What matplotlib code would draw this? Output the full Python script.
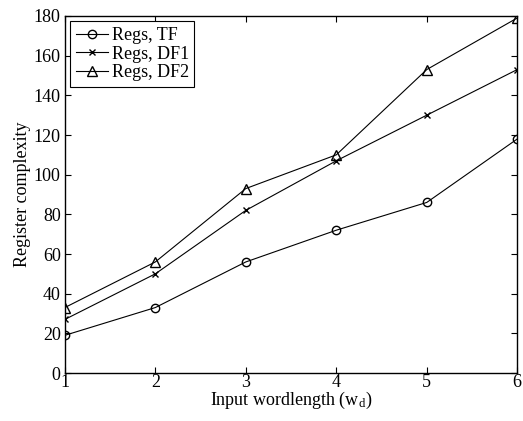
import matplotlib
matplotlib.use('Agg')
import matplotlib.pyplot as plt

# Data
wd = [1, 2, 3, 4, 5, 6]
regs_tf = [19, 33, 56, 72, 86, 118]
regs_df1 = [27, 50, 82, 107, 130, 153]
regs_df2 = [33, 56, 93, 110, 153, 179]

plt.rcParams['font.family'] = ['Liberation Serif', 'DejaVu Serif']
plt.rcParams['font.size'] = 13
plt.rcParams['mathtext.fontset'] = 'stix'

fig = plt.figure(figsize=(5.23, 4.21), dpi=100)
ax = fig.add_axes([0.124, 0.114, 0.865, 0.848])

ax.plot(wd, regs_tf, 'k-', marker='o', mfc='none', ms=6, lw=0.8, label='Regs, TF')
ax.plot(wd, regs_df1, 'k-', marker='x', ms=4.5, lw=0.8, label='Regs, DF1')
ax.plot(wd, regs_df2, 'k-', marker='^', mfc='none', ms=7, lw=0.8, label='Regs, DF2')

ax.set_xlim(1, 6)
ax.set_ylim(0, 180)
ax.set_xticks(wd)
ax.set_yticks(range(0, 181, 20))
ax.tick_params(direction='in', top=True, right=True, length=4)
ax.tick_params(axis='x', pad=1)
ax.tick_params(axis='y', pad=3)
for s in ax.spines.values():
    s.set_linewidth(1.0)

ax.set_xlabel('Input wordlength (w$_{\\mathregular{d}}$)', labelpad=-1)
ax.set_ylabel('Register complexity', labelpad=2)
leg = ax.legend(loc='upper left', fancybox=False, edgecolor='k', framealpha=1,
                borderaxespad=0.3, handlelength=1.8, handletextpad=0.2,
                labelspacing=0.1, borderpad=0.3)
leg.get_frame().set_linewidth(0.8)

fig.savefig('out.png', dpi=100)
